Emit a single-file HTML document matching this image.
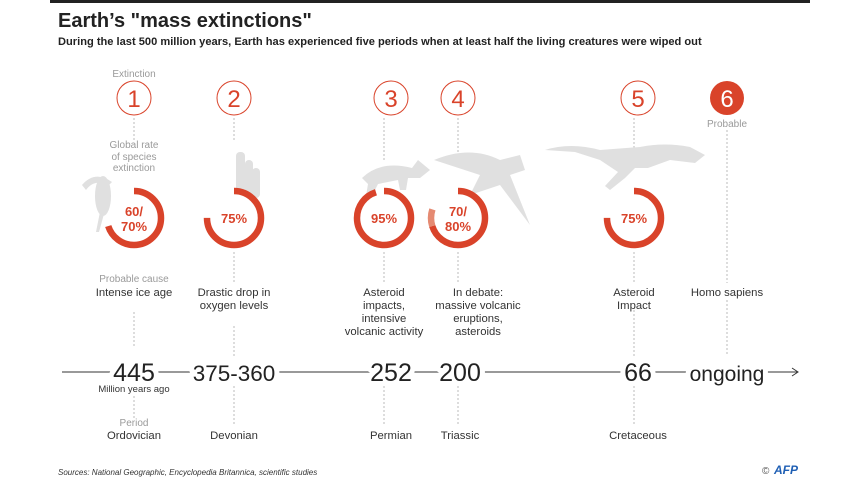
<!DOCTYPE html>
<html><head><meta charset="utf-8"><style>
body{margin:0;background:#fff;width:860px;height:484px;overflow:hidden}
svg{display:block;font-family:"Liberation Sans",sans-serif}
.g{fill:#9a9a9a;font-size:10px}
.t{fill:#333;font-size:11.3px}
.n{fill:#222;font-size:25px;paint-order:stroke;stroke:#fff;stroke-width:10px;stroke-linejoin:round}
.d{stroke:#bbb;stroke-dasharray:2 2;stroke-width:1}
.p{fill:#d9432a;font-size:13px;font-weight:bold}
.c{fill:none;stroke:#d9432a;stroke-width:1}
.cn{fill:#d9432a;font-size:24px}
.sk{fill:#e0e0e0}
</style></head><body>
<svg width="860" height="484" viewBox="0 0 860 484">
<rect x="50" y="0" width="760" height="3" fill="#222"/>
<text x="58" y="27" font-size="20" font-weight="bold" fill="#222">Earth’s "mass extinctions"</text>
<text x="58" y="45" font-size="11.1" font-weight="bold" fill="#222">During the last 500 million years, Earth has experienced five periods when at least half the living creatures were wiped out</text>

<g class="d">
<line x1="134" y1="118" x2="134" y2="140"/><line x1="134" y1="312" x2="134" y2="348"/><line x1="134" y1="396" x2="134" y2="418"/>
<line x1="234" y1="118" x2="234" y2="140"/><line x1="234" y1="252" x2="234" y2="282"/><line x1="234" y1="326" x2="234" y2="356"/><line x1="234" y1="386" x2="234" y2="424"/>
<line x1="384" y1="118" x2="384" y2="160"/><line x1="384" y1="252" x2="384" y2="282"/><line x1="384" y1="386" x2="384" y2="424"/>
<line x1="458" y1="118" x2="458" y2="160"/><line x1="458" y1="252" x2="458" y2="282"/><line x1="458" y1="386" x2="458" y2="424"/>
<line x1="634" y1="118" x2="634" y2="150"/><line x1="634" y1="252" x2="634" y2="282"/><line x1="634" y1="310" x2="634" y2="356"/><line x1="634" y1="386" x2="634" y2="424"/>
<line x1="727" y1="130" x2="727" y2="283"/><line x1="727" y1="300" x2="727" y2="355"/>
</g>

<text class="g" x="134" y="77" text-anchor="middle">Extinction</text>
<g class="c"><circle cx="134" cy="98" r="17"/><circle cx="234" cy="98" r="17"/><circle cx="391" cy="98" r="17"/><circle cx="458" cy="98" r="17"/><circle cx="638" cy="98" r="17"/></g>
<circle cx="727" cy="98" r="17" fill="#d9432a"/>
<g class="cn" text-anchor="middle">
<text x="134" y="107">1</text><text x="234" y="107">2</text><text x="391" y="107">3</text><text x="458" y="107">4</text><text x="638" y="107">5</text><text x="727" y="107" fill="#fff">6</text>
</g>
<text class="g" x="727" y="127" text-anchor="middle">Probable</text>
<g class="g" text-anchor="middle"><text x="134" y="148">Global rate</text><text x="134" y="160">of species</text><text x="134" y="171">extinction</text></g>

<g class="sk">
<ellipse cx="103" cy="196" rx="8" ry="20"/><path d="M82 185 Q95 170 112 182 L108 186 Q95 178 86 190Z"/><path d="M100 212 L96 232 L99 232 L104 214Z"/>
<rect x="236" y="152" width="9" height="40" rx="4"/><rect x="245" y="160" width="8" height="35" rx="4"/><rect x="252" y="168" width="8" height="30" rx="4"/>
<path d="M362 178 Q380 160 412 168 L418 160 L430 170 L420 178 L408 178 L406 190 L400 190 L398 180 L378 184 L372 196 L366 196 L368 184Z"/>
<path d="M434 160 Q470 145 500 160 L520 155 L525 170 L510 175 L530 225 L500 185 L470 195 L480 175Z"/>
<path d="M545 150 Q570 142 600 150 L640 147 Q665 142 690 147 L705 155 L695 163 L670 160 L648 168 L635 168 L625 178 L610 190 L605 186 L618 172 L600 160 L575 152Z"/>
</g>

<g fill="none" stroke-width="6.5" stroke="#d9432a">
<circle cx="134" cy="218" r="27" stroke-dasharray="118.8 200" transform="rotate(-90 134 218)"/>
<circle cx="234" cy="218" r="27" stroke-dasharray="127.2 200" transform="rotate(-90 234 218)"/>
<circle cx="384" cy="218" r="27" stroke-dasharray="161.2 200" transform="rotate(-90 384 218)"/>
<circle cx="458" cy="218" r="27" stroke-dasharray="118.8 200" transform="rotate(-90 458 218)"/>
<circle cx="458" cy="218" r="27" stroke="#e58a72" stroke-dasharray="0 118.8 17 200" transform="rotate(-90 458 218)"/>
<circle cx="634" cy="218" r="27" stroke-dasharray="127.2 200" transform="rotate(-90 634 218)"/>
</g>
<g class="p" text-anchor="middle">
<text x="134" y="216">60/</text><text x="134" y="231">70%</text>
<text x="234" y="223">75%</text>
<text x="384" y="223">95%</text>
<text x="458" y="216">70/</text><text x="458" y="231">80%</text>
<text x="634" y="223">75%</text>
</g>

<text class="g" x="134" y="282" text-anchor="middle" font-size="10.5">Probable cause</text>
<g class="t" text-anchor="middle">
<text x="134" y="296">Intense ice age</text>
<text x="234" y="296">Drastic drop in</text><text x="234" y="309">oxygen levels</text>
<text x="384" y="296">Asteroid</text><text x="384" y="309">impacts,</text><text x="384" y="322">intensive</text><text x="384" y="335">volcanic activity</text>
<text x="478" y="296">In debate:</text><text x="478" y="309">massive volcanic</text><text x="478" y="322">eruptions,</text><text x="478" y="335">asteroids</text>
<text x="634" y="296">Asteroid</text><text x="634" y="309">Impact</text>
<text x="727" y="296">Homo sapiens</text>
</g>

<line x1="62" y1="372" x2="797" y2="372" stroke="#333" stroke-width="1"/>
<path d="M792 368 L798 372 L792 376" fill="none" stroke="#333" stroke-width="1"/>
<g class="n" text-anchor="middle">
<text x="134" y="381">445</text><text x="234" y="381" font-size="22.5">375-360</text><text x="391" y="381">252</text><text x="460" y="381">200</text><text x="638" y="381">66</text><text x="727" y="381" font-size="21">ongoing</text>
</g>
<text x="134" y="392" text-anchor="middle" font-size="9.5" fill="#333">Million years ago</text>
<text class="g" x="134" y="426" text-anchor="middle" font-size="10.5">Period</text>
<g class="t" text-anchor="middle">
<text x="134" y="439">Ordovician</text><text x="234" y="439">Devonian</text><text x="391" y="439">Permian</text><text x="460" y="439">Triassic</text><text x="638" y="439">Cretaceous</text>
</g>
<text x="58" y="475" font-size="8" font-style="italic" fill="#333">Sources: National Geographic, Encyclopedia Britannica, scientific studies</text>
<text x="762" y="474" font-size="10" fill="#555">©</text>
<text x="774" y="474" font-size="12" font-weight="bold" font-style="italic" fill="#1f5fb4">AFP</text>
</svg>
</body></html>
